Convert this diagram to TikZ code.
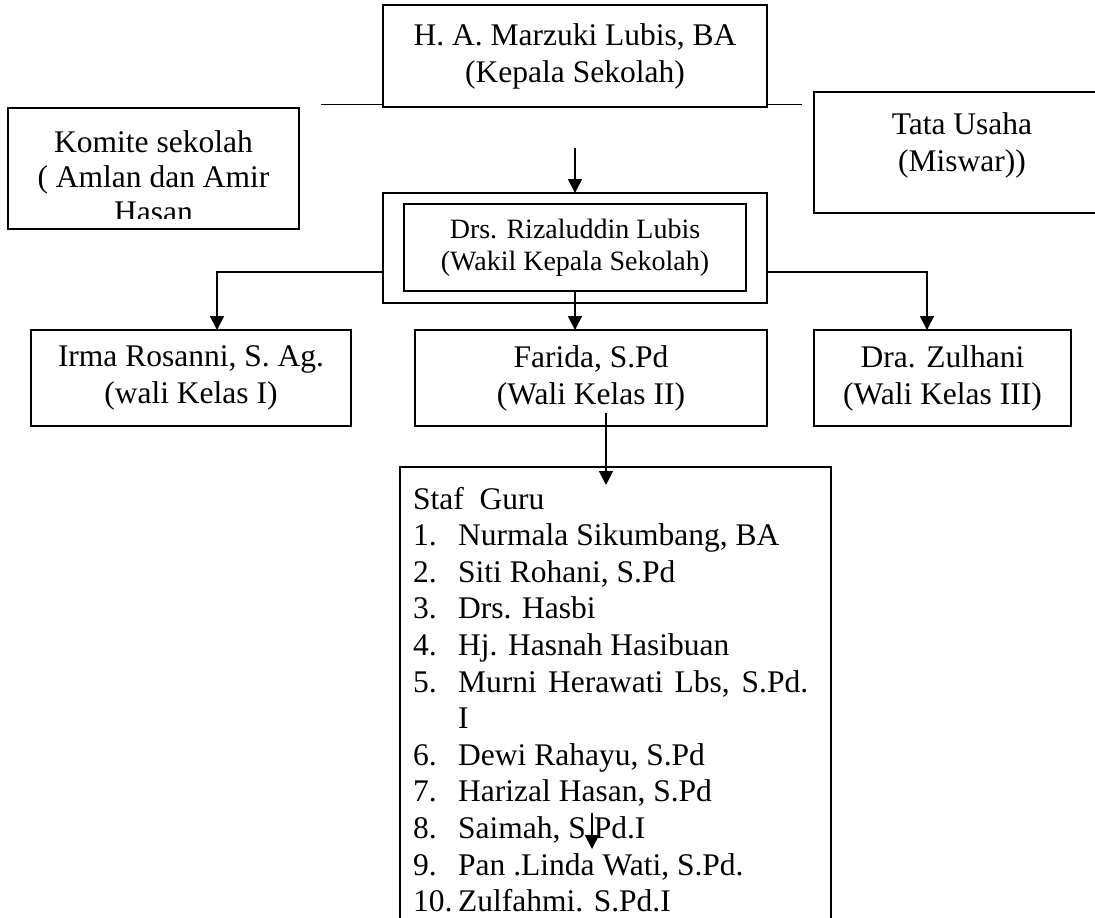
\documentclass[tikz,border=0pt]{standalone}
\usepackage{fontspec}
\setmainfont{Liberation Serif}
\usetikzlibrary{arrows.meta}
\begin{document}
\begin{tikzpicture}[x=1pt,y=-1pt,
  box/.style={draw, line width=1.8pt, inner sep=0pt, outer sep=0pt, align=center,
              font=\fontsize{31.5}{37}\selectfont},
  small/.style={font=\fontsize{28}{32}\selectfont},
  conn/.style={line width=1.8pt},
  arr/.style={conn, -{Triangle[length=14pt,width=14pt]}},
  txt/.style={inner sep=0pt, font=\fontsize{31.5}{37}\selectfont},
]
\useasboundingbox (0,0) rectangle (1095,918);

% Kepala Sekolah
\node[box, minimum width=384pt, minimum height=102pt] (top) at (575,56)
  {H. A. Marzuki Lubis, BA\\(Kepala Sekolah)};
\coordinate (tl) at (321,104.5);
\coordinate (tr) at (802,104.5);
\draw[conn] (tl) -- (top.west |- tl);
\draw[conn] (top.east |- tr) -- (tr);

% Komite sekolah (text clipped by its box)
\node[box, minimum width=291pt, minimum height=121pt] (komite) at (153.5,168.5) {};
\begin{scope}
  \clip (8,108) rectangle (299,218);
  \node[txt, anchor=base] (kom1) at (153.5,152) {Komite sekolah};
  \node[txt, anchor=base] (kom2) at (153.5,187) {( Amlan dan Amir};
  \node[txt, anchor=base] (kom3) at (153.5,222) {Hasan};
\end{scope}

% Tata Usaha
\node[box, minimum width=296pt, minimum height=121pt] (tata) at (962,152.5) {};
\node[txt, anchor=base] (tata1) at (962,134) {Tata Usaha};
\node[txt, anchor=base] (tata2) at (962,171) {(Miswar))};

% Wakil Kepala Sekolah
\node[box, minimum width=384pt, minimum height=110pt] (wakil) at (575,248) {};
\node[box, small, minimum width=342pt, minimum height=87pt] (wakilin) at (575,247.5)
  {\fontsize{28}{32}\selectfont Drs. Rizaluddin Lubis\\(Wakil Kepala Sekolah)};
\coordinate (a1) at (575,148);
\draw[arr] (a1) -- (wakil.north);

% Wali kelas
\node[box, minimum width=320pt, minimum height=96pt] (irma) at (191,378)
  {Irma Rosanni, S. Ag.\\(wali Kelas I)};
\node[box, minimum width=352pt, minimum height=96pt] (farida) at (591,378)
  {Farida, S.Pd\\(Wali Kelas II)};
\node[box, minimum width=257pt, minimum height=96pt] (zulhani) at (942.5,378)
  {Dra. Zulhani\\(Wali Kelas III)};

\coordinate (bl) at (217,272);
\coordinate (br) at (927,272);
\draw[arr] (wakil.west |- bl) -- (bl) -- (irma.north -| bl);
\draw[arr] (wakil.east |- br) -- (br) -- (zulhani.north -| br);
\draw[arr] (wakilin.south) -- (farida.north -| wakilin.south);

% Staf Guru
\node[box, minimum width=431pt, minimum height=473pt] (staf) at (615.5,703.5) {};
\coordinate (a2) at (606,413);
\coordinate (a3) at (606,485);
\draw[arr] (a2) -- (a3);

\node[txt, anchor=base west] (s0) at (413,509) {Staf\ \ Guru};
\node[txt, anchor=base west] (n1) at (413,545.6) {1.};
\node[txt, anchor=base west] (t1) at (458,545.6) {Nurmala Sikumbang, BA};
\node[txt, anchor=base west] (n2) at (413,582.2) {2.};
\node[txt, anchor=base west] (t2) at (458,582.2) {Siti Rohani, S.Pd};
\node[txt, anchor=base west] (n3) at (413,618.8) {3.};
\node[txt, anchor=base west] (t3) at (458,618.8) {Drs. Hasbi};
\node[txt, anchor=base west] (n4) at (413,655.4) {4.};
\node[txt, anchor=base west] (t4) at (458,655.4) {Hj. Hasnah Hasibuan};
\node[txt, anchor=base west] (n5) at (413,692) {5.};
\node[txt, anchor=base west] (t5) at (458,692) {\makebox[350pt][s]{Murni Herawati Lbs, S.Pd.}};
\node[txt, anchor=base west] (t5b) at (458,728.6) {I};
\node[txt, anchor=base west] (n6) at (413,765.2) {6.};
\node[txt, anchor=base west] (t6) at (458,765.2) {Dewi Rahayu, S.Pd};
\node[txt, anchor=base west] (n7) at (413,801.8) {7.};
\node[txt, anchor=base west] (t7) at (458,801.8) {Harizal Hasan, S.Pd};
\node[txt, anchor=base west] (n8) at (413,838.4) {8.};
\node[txt, anchor=base west] (t8) at (458,838.4) {Saimah, S.Pd.I};
\node[txt, anchor=base west] (n9) at (413,875) {9.};
\node[txt, anchor=base west] (t9) at (458,875) {Pan .Linda Wati, S.Pd.};
\node[txt, anchor=base west] (n10) at (413,911.6) {10.};
\node[txt, anchor=base west] (t10) at (458,911.6) {Zulfahmi. S.Pd.I};

\coordinate (a4) at (592,813);
\coordinate (a5) at (592,849);
\draw[arr] (a4) -- (a5);
\end{tikzpicture}
\end{document}
